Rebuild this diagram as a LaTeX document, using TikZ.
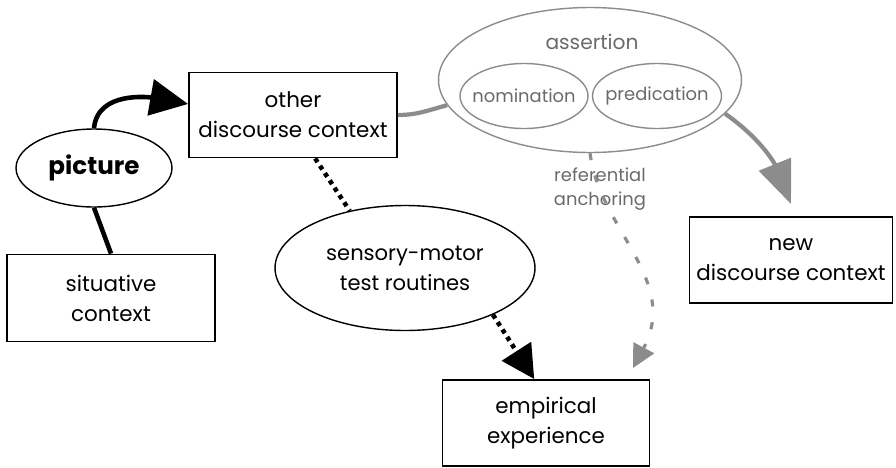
\documentclass[tikz,border=0pt]{standalone}
\usepackage{fontspec}
\setmainfont{Poppins}
\usetikzlibrary{arrows,arrows.meta,shapes.geometric}
\definecolor{grayline}{HTML}{8C8C8C}
\definecolor{graytext}{HTML}{6A6A6A}

\tikzset{
  box/.style={draw, line width=1.1pt, inner sep=0pt, align=center,
    font=\fontsize{12.2}{17}\selectfont},
  oval/.style={draw, ellipse, line width=0.8pt, inner sep=0pt, align=center,
    font=\fontsize{12}{17}\selectfont},
  grayoval/.style={draw=grayline, ellipse, line width=0.8pt, inner sep=0pt},
  graylabel/.style={text=graytext, align=center, inner sep=0pt,
    font=\fontsize{10.2}{14}\selectfont},
}

\begin{document}
\begin{tikzpicture}[x=0.02cm,y=-0.02cm]
\useasboundingbox (0,0) rectangle (896,467);

\node [box, minimum width=4.16cm, minimum height=1.7cm] (other) at (293,115) {other\\discourse context};
\node [box, minimum width=4.16cm, minimum height=1.74cm] (situative) at (111,298) {situative\\context};
\node [box, minimum width=4.14cm, minimum height=1.72cm] (empirical) at (546,423) {empirical\\experience};
\node [box, minimum width=4.06cm, minimum height=1.72cm] (new) at (791,260) {new\\discourse context};

\node [oval, minimum width=3.12cm, minimum height=1.56cm, font=\fontsize{14}{17}\bfseries] (picture) at (94,168) {picture};
\node [oval, minimum width=5.2cm, minimum height=2.5cm] (sensory) at (405,268) {sensory-motor\\test routines};

\node [grayoval, minimum width=6.06cm, minimum height=2.9cm] (assertion) at (590,80) {};
\node [graylabel, font=\fontsize{11.5}{14}\selectfont] (assertlabel) at (592,42) {assertion};
\node [grayoval, minimum width=2.56cm, minimum height=1.3cm, label={[graylabel]center:nomination}] (nomination) at (524,96) {};
\node [grayoval, minimum width=2.58cm, minimum height=1.3cm, label={[graylabel]center:predication}] (predication) at (657,96) {};
\node [graylabel] (anchorlabel) at (600,189) {referential\\anchoring};
\coordinate (anchortip) at (633,368);

\draw [line width=2.6pt] (situative.north) -- (picture.south);
\draw [line width=2.6pt, -{Triangle[length=0.76cm,width=0.72cm]}] (picture.north) to[out=85,in=170] (other.174);

\draw [line width=2.6pt, dash pattern=on 2.5pt off 2.5pt] (other.-63) -- (sensory.134);
\draw [line width=2.6pt, dash pattern=on 2.5pt off 2.5pt, -{Triangle[length=0.66cm,width=0.68cm]}] (sensory.-28) -- (empirical.105);

\draw [grayline, line width=2.4pt] (other.east) to[out=0,in=195] (assertion.190);
\draw [grayline, line width=2.4pt, -{Triangle[length=0.86cm,width=0.68cm]}] (assertion.-14) to[out=-35,in=112] ([yshift=0.24cm]new.north);
\draw [grayline, line width=1.8pt, dash pattern=on 4pt off 9pt, -{Triangle[length=0.46cm,width=0.46cm]}] (assertion.south) .. controls (600,230) and (680,280) .. (anchortip);
\end{tikzpicture}
\end{document}
